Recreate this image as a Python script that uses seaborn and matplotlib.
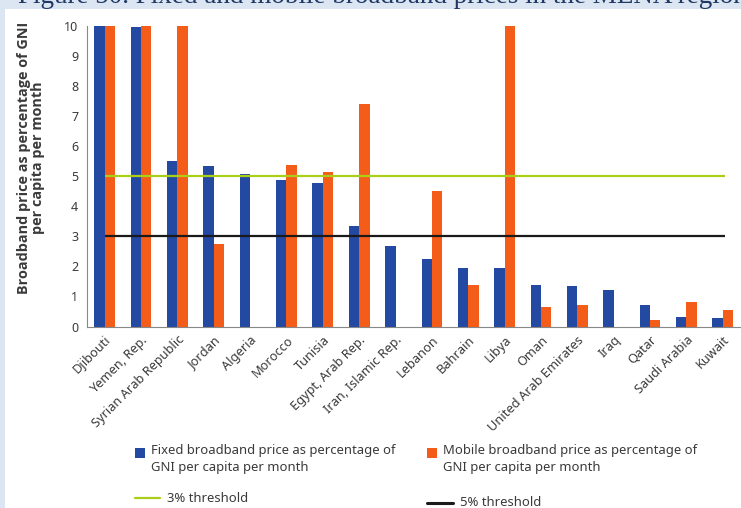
import matplotlib
matplotlib.use("Agg")
import matplotlib.pyplot as plt
from matplotlib.patches import Rectangle
from matplotlib.lines import Line2D
import numpy as np
import pandas as pd
import seaborn as sns

countries = ["Djibouti", "Yemen, Rep.", "Syrian Arab Republic", "Jordan", "Algeria",
             "Morocco", "Tunisia", "Egypt, Arab Rep.", "Iran, Islamic Rep.", "Lebanon",
             "Bahrain", "Libya", "Oman", "United Arab Emirates", "Iraq", "Qatar",
             "Saudi Arabia", "Kuwait"]
fixed = [10.0, 9.94, 5.51, 5.32, 5.05, 4.86, 4.76, 3.33, 2.69, 2.25,
         1.95, 1.93, 1.37, 1.33, 1.20, 0.73, 0.33, 0.28]
mobile = [10.0, 10.0, 10.0, 2.75, np.nan, 5.38, 5.12, 7.39, np.nan, 4.51,
          1.37, 10.0, 0.66, 0.70, np.nan, 0.20, 0.82, 0.55]
thresholds = {"3% threshold": 5, "5% threshold": 3}

fixed_label = "Fixed broadband price as percentage of\nGNI per capita per month"
mobile_label = "Mobile broadband price as percentage of\nGNI per capita per month"

BLUE = "#2449a2"
ORANGE = "#f45d19"
GREEN = "#a9cf19"
BLACK = "#1a1a1a"
BG = "#dce6f2"
TXT = "#3a3a3a"

df = pd.DataFrame({"country": countries * 2,
                   "value": fixed + mobile,
                   "type": ["fixed"] * len(countries) + ["mobile"] * len(countries)})

sns.set_style("white")
plt.rcParams["font.family"] = ["Noto Sans", "DejaVu Sans"]

W, H = 741, 508
fig = plt.figure(figsize=(W / 100, H / 100), dpi=100, facecolor=BG)
fig.patches.append(Rectangle((5 / W, 0), 1, 1 - 9 / H, transform=fig.transFigure,
                             facecolor="white", edgecolor="none", zorder=-10))

# title, cut off at the top like the original
fig.text(18 / W, 1 - 3 / H, "Figure 50. Fixed and mobile broadband prices in the MENA region",
         family="Liberation Serif", fontsize=19.5, color="#1f3864", va="baseline", zorder=-5)

ax = fig.add_axes([86.5 / W, 181.5 / H, 1 - 86.5 / W, 301 / H])
ax.set_facecolor("none")
sns.barplot(data=df, x="country", y="value", hue="type", order=countries,
            palette=[BLUE, ORANGE], width=0.57, saturation=1, errorbar=None,
            linewidth=0, legend=False, ax=ax)

for (name, val), col in zip(thresholds.items(), [GREEN, BLACK]):
    ax.hlines(val, 0, 17.05, color=col, lw=1.6, zorder=3)

ax.set_xlim(-0.5, 17.27)
ax.set_ylim(0, 10)
ax.set_yticks(range(0, 11))
ax.set_xticks(range(len(countries)))
ax.set_xticklabels(countries, rotation=45, ha="right", rotation_mode="anchor",
                   fontsize=9.2, color=TXT)
ax.set_xticks(np.arange(0.5, len(countries), 1), minor=True)
ax.tick_params(axis="x", which="major", length=0, pad=5)
ax.tick_params(axis="x", which="minor", length=4, color="#888888", width=0.8)
ax.tick_params(axis="y", length=4, color="#888888", width=0.8, labelsize=9,
               labelcolor=TXT, pad=2)
ax.tick_params(axis="both", direction="out")
sns.despine(ax=ax)
for s in ["left", "bottom"]:
    ax.spines[s].set_color("#888888")
    ax.spines[s].set_linewidth(0.8)
ax.set_xlabel("")
ax.set_ylabel("")

fig.text(31 / W, 1 - 158 / H, "Broadband price as percentage of GNI\nper capita per month",
         rotation=90, ha="center", va="center", fontsize=10.4, fontweight="bold",
         family=["Open Sans", "DejaVu Sans"],
         color=TXT, multialignment="center", linespacing=1.05)

# legend drawn by hand to match the layout
def fy(py):
    return 1 - py / H

for x0, col, lab in [(135, BLUE, fixed_label), (427, ORANGE, mobile_label)]:
    fig.patches.append(Rectangle((x0 / W, fy(458)), 10 / W, 10 / H, transform=fig.transFigure,
                                 facecolor=col, edgecolor="none"))
    fig.text((x0 + 16) / W, fy(444), lab, ha="left", va="top", fontsize=9.4,
             color=TXT, linespacing=1.35)

for (x0, x1, y, col, lw), lab in zip([(135, 160, 498, GREEN, 1.6), (427, 453, 503, BLACK, 2.2)],
                                     thresholds.keys()):
    fig.lines.append(Line2D([x0 / W, x1 / W], [fy(y), fy(y)], transform=fig.transFigure,
                            color=col, lw=lw))
    fig.text((x1 + 7) / W, fy(y), lab, ha="left", va="center", fontsize=9.4, color=TXT)

fig.savefig("out.png", dpi=100, facecolor=BG)
